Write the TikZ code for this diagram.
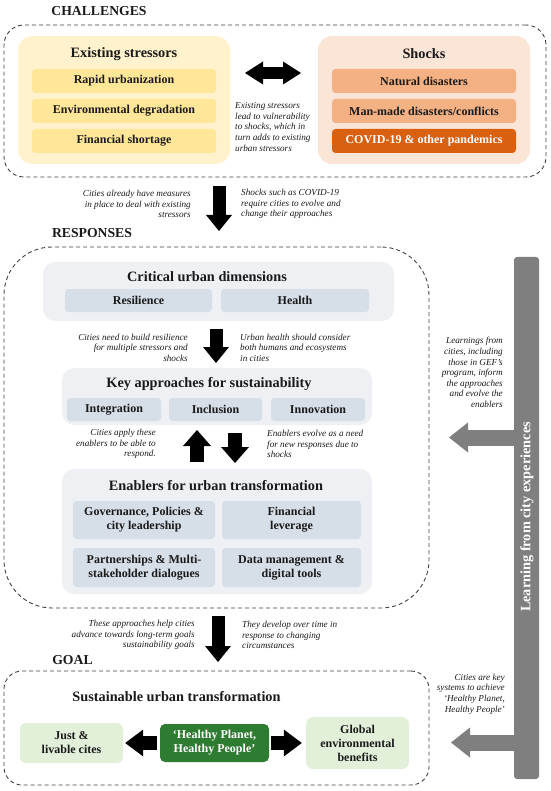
\documentclass[tikz,border=0pt]{standalone}
\usepackage{fontspec}
\setmainfont{Liberation Serif}
\usetikzlibrary{arrows.meta}
\definecolor{ylout}{HTML}{FFF2CC}
\definecolor{ylin}{HTML}{FFE699}
\definecolor{orout}{HTML}{FBE5D6}
\definecolor{orin}{HTML}{F4B183}
\definecolor{orcov}{HTML}{D9600F}
\definecolor{bgout}{HTML}{EEF0F4}
\definecolor{bgin}{HTML}{D6DEE8}
\definecolor{grlt}{HTML}{E2F0D9}
\definecolor{grdk}{HTML}{2E7B32}
\definecolor{barg}{HTML}{7F7F7F}
\definecolor{dashc}{HTML}{404040}
\definecolor{txtc}{HTML}{1A1A1A}
\newcommand\fhead{\fontsize{13.7}{16}\selectfont\bfseries}
\newcommand\ftitle{\fontsize{14.3}{17}\selectfont\bfseries}
\newcommand\fsub{\fontsize{12}{14}\selectfont\bfseries}
\newcommand\fital{\fontsize{9.2}{10.6}\selectfont\itshape}
\newcommand\fbarx{\fontsize{14.3}{17}\selectfont\bfseries}
\begin{document}
\begin{tikzpicture}[x=1pt,y=-1pt,
  frame/.style={rectangle, draw=dashc, dash pattern=on 4pt off 3pt, line width=0.9pt, inner sep=0},
  outbox/.style={rectangle, inner sep=0, rounded corners=14pt},
  panel/.style={rectangle, inner sep=0, rounded corners=12pt, fill=bgout},
  inbox/.style={rectangle, inner sep=0, rounded corners=3.5pt, align=center, font=\fsub, text=txtc},
  ttl/.style={inner sep=0, font=\ftitle, text=txtc},
  hdr/.style={inner sep=0, font=\fhead, text=txtc},
  notel/.style={inner sep=0, font=\fital, text=txtc, align=left, anchor=west},
  noter/.style={inner sep=0, font=\fital, text=txtc, align=right, anchor=east},
  blk/.style={draw=black, line width=13pt, -{Triangle[width=26pt,length=16pt,line width=0pt]}},
  blkw/.style={draw=black, line width=14pt, -{Triangle[width=28pt,length=16pt,line width=0pt]}},
  blkh/.style={draw=black, line width=14pt, -{Triangle[width=27pt,length=18pt,line width=0pt]}},
  dbl/.style={draw=black, line width=12pt, {Triangle[width=23pt,length=18pt,line width=0pt]}-{Triangle[width=23pt,length=18pt,line width=0pt]}},
  garrow/.style={draw=barg, line width=16pt, -{Triangle[width=30pt,length=19pt,line width=0pt]}}
]
\useasboundingbox (0,0) rectangle (550,791);

% ---------------- CHALLENGES
\node[hdr] (chal) at (99,11) {CHALLENGES};
\node[frame, rounded corners=20pt, minimum width=542, minimum height=152] (chalf) at (275,101) {};
\node[outbox, fill=ylout, minimum width=212, minimum height=128] (stress) at (124,100) {};
\node[ttl] (stresst) at (124,54) {Existing stressors};
\node[inbox, fill=ylin, minimum width=184, minimum height=24] (s1) at (124,81) {Rapid urbanization};
\node[inbox, fill=ylin, minimum width=184, minimum height=24] (s2) at (124,111) {Environmental degradation};
\node[inbox, fill=ylin, minimum width=184, minimum height=24] (s3) at (124,141) {Financial shortage};
\node[outbox, fill=orout, minimum width=212, minimum height=128] (shock) at (424,100) {};
\node[ttl] (shockt) at (424,54) {Shocks};
\node[inbox, fill=orin, minimum width=184, minimum height=24] (k1) at (424,81) {Natural disasters};
\node[inbox, fill=orin, minimum width=184, minimum height=24] (k2) at (424,111) {Man-made disasters/conflicts};
\node[inbox, fill=orcov, text=white, minimum width=184, minimum height=24] (k3) at (424,141) {COVID-19 \& other pandemics};
\coordinate (dA) at (230,73);
\coordinate (dB) at (318,73);
\draw[dbl, shorten <=15pt, shorten >=17pt] (dA) -- (dB);
\node[notel] (chn) at (235,127) {Existing stressors\\lead to vulnerability\\to shocks, which in\\turn adds to existing\\urban stressors};

% arrow challenges -> responses
\coordinate (a1s) at (219,186);
\coordinate (a1e) at (219,231);
\draw[blk] (a1s) -- (a1e);
\node[noter] (n1l) at (191,204) {Cities already have measures\\in place to deal with existing\\stressors};
\node[notel] (n1r) at (241,204) {Shocks such as COVID-19\\require cities to evolve and\\change their approaches};

% ---------------- RESPONSES
\node[hdr] (resp) at (92,233) {RESPONSES};
\node[frame, rounded corners=48pt, minimum width=425, minimum height=361] (respf) at (216.5,427.5) {};

\node[panel, minimum width=351, minimum height=59] (crit) at (218.5,291.5) {};
\node[ttl] (critt) at (207,277) {Critical urban dimensions};
\node[inbox, fill=bgin, minimum width=147, minimum height=23] (res) at (138.5,300.5) {Resilience};
\node[inbox, fill=bgin, minimum width=148, minimum height=23] (hea) at (295,300.5) {Health};

\coordinate (a2s) at (216,329);
\coordinate (a2e) at (216,363);
\draw[blk] (a2s) -- (a2e);
\node[noter] (n2l) at (188,347.5) {Cities need to build resilience\\for multiple stressors and\\shocks};
\node[notel] (n2r) at (240,347.5) {Urban health should consider\\both humans and ecosystems\\in cities};

\node[panel, minimum width=310, minimum height=57] (key) at (217,396.5) {};
\node[ttl] (keyt) at (209,384) {Key approaches for sustainability};
\node[inbox, fill=bgin, minimum width=94, minimum height=23] (integ) at (114,409.5) {Integration};
\node[inbox, fill=bgin, minimum width=93, minimum height=23] (incl) at (215.5,409.5) {Inclusion};
\node[inbox, fill=bgin, minimum width=94, minimum height=23] (innov) at (318,409.5) {Innovation};

\coordinate (upS) at (197,462);
\coordinate (upE) at (197,430);
\draw[blkw] (upS) -- (upE);
\coordinate (dnS) at (235,433);
\coordinate (dnE) at (235,463);
\draw[blkw] (dnS) -- (dnE);
\node[noter] (n3l) at (156,444) {Cities apply these\\enablers to be able to\\respond.};
\node[notel] (n3r) at (267,444) {Enablers evolve as a need\\for new responses due to\\shocks};

\node[panel, minimum width=310, minimum height=125] (enab) at (217,531.5) {};
\node[ttl] (enabt) at (216,486) {Enablers for urban transformation};
\node[inbox, fill=bgin, minimum width=142, minimum height=38] (gov) at (144,520) {Governance, Policies \&\\city leadership};
\node[inbox, fill=bgin, minimum width=139, minimum height=38] (fin) at (291.5,520) {Financial\\leverage};
\node[inbox, fill=bgin, minimum width=142, minimum height=39] (part) at (144,567.5) {Partnerships \& Multi-\\stakeholder dialogues};
\node[inbox, fill=bgin, minimum width=139, minimum height=39] (data) at (291.5,567.5) {Data management \&\\digital tools};

% arrow responses -> goal
\coordinate (a4s) at (218,616);
\coordinate (a4e) at (218,662);
\draw[blk] (a4s) -- (a4e);
\node[noter] (n4l) at (195,635) {These approaches help cities\\advance towards long-term goals\\sustainability goals};
\node[notel] (n4r) at (242,635) {They develop over time in\\response to changing\\circumstances};

% ---------------- GOAL
\node[hdr] (goal) at (72.5,660) {GOAL};
\node[frame, rounded corners=18pt, minimum width=425, minimum height=114] (goalf) at (216.5,728) {};
\node[ttl] (sust) at (176.5,697) {Sustainable urban transformation};
\node[inbox, fill=grlt, rounded corners=6pt, minimum width=103, minimum height=40] (just) at (71.5,743) {Just \&\\livable cites};
\node[inbox, fill=grdk, text=white, rounded corners=5pt, minimum width=109, minimum height=38] (hp) at (214.5,743) {‘Healthy Planet,\\Healthy People’};
\node[inbox, fill=grlt, rounded corners=7pt, minimum width=103, minimum height=52] (glob) at (357.5,743) {Global\\environmental\\benefits};
\draw[blkh, shorten <=3pt, shorten >=2pt] (hp.west) -- (just.east);
\draw[blkh, shorten <=2pt, shorten >=4pt] (hp.east) -- (glob.west);

% ---------------- learning bar
\node[rectangle, fill=barg, rounded corners=3pt, inner sep=0, minimum width=25, minimum height=522] (bar) at (526.5,518) {};
\node[rotate=90, inner sep=0, font=\fbarx, text=white] (bart) at (527,517) {Learning from city experiences};
\coordinate (g1) at (449,437.5);
\coordinate (g2) at (451,742.5);
\draw[garrow, shorten <=-2pt] (g1 -| bar.west) -- (g1);
\draw[garrow, shorten <=-2pt] (g2 -| bar.west) -- (g2);
\node[noter] (nl1) at (503,372.5) {Learnings from\\cities, including\\those in GEF’s\\program, inform\\the approaches\\and evolve the\\enablers};
\node[noter] (nl2) at (505,694) {Cities are key\\systems to achieve\\‘Healthy Planet,\\Healthy People’};
\end{tikzpicture}
\end{document}
